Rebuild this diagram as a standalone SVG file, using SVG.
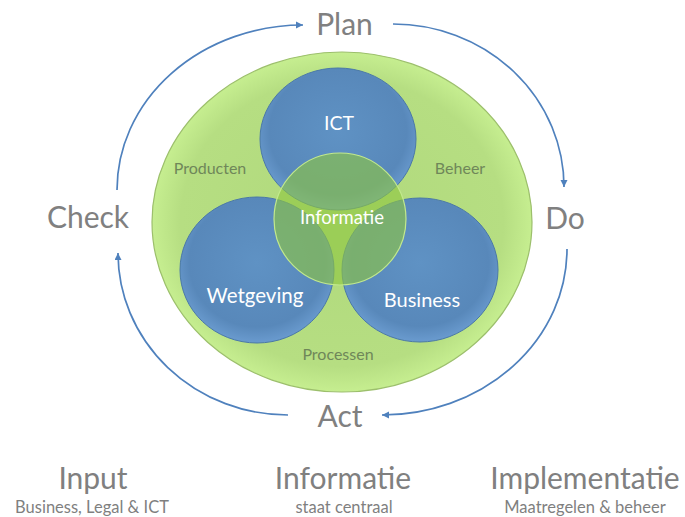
<svg xmlns="http://www.w3.org/2000/svg" width="685" height="517" viewBox="0 0 685 517">
<defs>
<style>
.big{font-family:Lato,"Open Sans","Liberation Sans",sans-serif;font-weight:400;font-size:30px;fill:#808080;text-anchor:middle}
.sub{font-family:Lato,"Open Sans","Liberation Sans",sans-serif;font-size:16.5px;fill:#7f7f7f;text-anchor:middle}
.in{font-family:Lato,"Open Sans","Liberation Sans",sans-serif;fill:#ffffff;text-anchor:middle}
.side{font-family:Lato,"Open Sans","Liberation Sans",sans-serif;font-size:16px;fill:#6f8759;text-anchor:middle}
.arc{fill:none;stroke:#4f81bd;stroke-width:1.7;marker-end:url(#ah)}
.blue{fill:url(#gb);stroke:#4a78a8;stroke-width:1}
</style>
<marker id="ah" markerUnits="userSpaceOnUse" markerWidth="10" markerHeight="10" refX="7" refY="3.5" orient="auto">
<path d="M0,0 L7,3.5 L0,7 Z" fill="#4f81bd"/>
</marker>
<radialGradient id="gg" cx="50%" cy="50%" r="50%">
<stop offset="0" stop-color="#b0d97c"/>
<stop offset="0.85" stop-color="#b6de82"/>
<stop offset="1" stop-color="#c6ee90"/>
</radialGradient>
<radialGradient id="gb" cx="50%" cy="45%" r="55%">
<stop offset="0" stop-color="#5f92c4"/>
<stop offset="0.8" stop-color="#5888ba"/>
<stop offset="1" stop-color="#6a9bcf"/>
</radialGradient>
</defs>
<g id="background">
<ellipse cx="342" cy="222" rx="190" ry="170" fill="url(#gg)" stroke="#9cbf6c" stroke-width="1.2"/>
</g>
<g id="node-ict">
<ellipse class="blue" cx="338" cy="139" rx="78" ry="71"/>
</g>
<g id="node-wetgeving">
<ellipse class="blue" cx="257" cy="270" rx="77" ry="73"/>
</g>
<g id="node-business">
<ellipse class="blue" cx="420" cy="270" rx="78" ry="72"/>
</g>
<g id="node-informatie">
<circle cx="340" cy="219" r="66" fill="#8ec641" fill-opacity="0.62" stroke="#c2e98c" stroke-width="1.2"/>
</g>
<g id="labels-inner">
<text class="in" x="339" y="130" font-size="19.5">ICT</text>
<text class="in" x="342" y="224" font-size="18.5">Informatie</text>
<text class="in" x="255" y="303" font-size="20.5">Wetgeving</text>
<text class="in" x="422" y="307" font-size="20">Business</text>
<text class="side" x="210" y="174">Producten</text>
<text class="side" x="460" y="174">Beheer</text>
<text class="side" x="338" y="360">Processen</text>
</g>
<g id="connectors">
<path class="arc" d="M117,190 A186,165 0 0 1 303,25"/>
<path class="arc" d="M393,24 A171,163 0 0 1 564,187"/>
<path class="arc" d="M567,249 A185,166 0 0 1 382,415"/>
<path class="arc" d="M288,415 A170,162 0 0 1 118,253"/>
</g>
<g id="node-plan"><text class="big" x="344.5" y="35">Plan</text></g>
<g id="node-do"><text class="big" x="565" y="229">Do</text></g>
<g id="node-act"><text class="big" x="340" y="427">Act</text></g>
<g id="node-check"><text class="big" x="88" y="228">Check</text></g>
<g id="footer-input">
<text class="big" x="93" y="489">Input</text>
<text class="sub" x="92" y="513">Business, Legal &amp; ICT</text>
</g>
<g id="footer-informatie">
<text class="big" x="343" y="489">Informatie</text>
<text class="sub" x="344" y="513">staat centraal</text>
</g>
<g id="footer-implementatie">
<text class="big" x="585" y="489">Implementatie</text>
<text class="sub" x="585" y="513">Maatregelen &amp; beheer</text>
</g>
</svg>
